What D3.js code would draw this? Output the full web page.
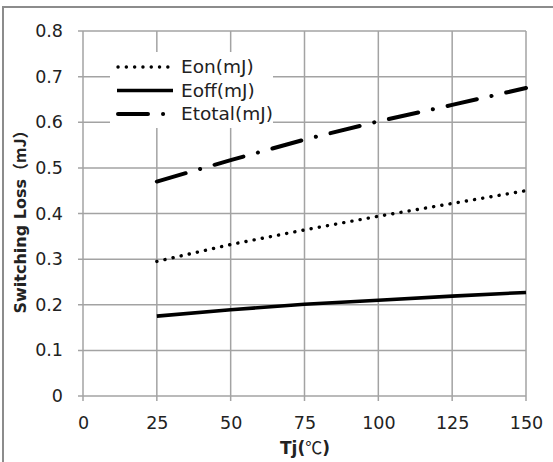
<!DOCTYPE html>
<html>
<head>
<meta charset="utf-8">
<script src="https://cdn.jsdelivr.net/npm/d3@7"></script>
<style>
  body { margin: 0; background: #fff; }
  text { font-family: "DejaVu Sans", "Noto Sans CJK SC", sans-serif; fill: #222; }
</style>
</head>
<body>
<svg id="chart" width="553" height="462"></svg>
<script>
// Tj in degrees C
var temps = [25, 50, 75, 100, 125, 150];
var eon = [0.295, 0.332, 0.364, 0.394, 0.422, 0.45];
var eoff = [0.175, 0.189, 0.201, 0.21, 0.219, 0.227];
var etotal = [0.47, 0.517, 0.562, 0.602, 0.638, 0.675];

var xTicks = [0, 25, 50, 75, 100, 125, 150];
var yTicks = [0, 0.1, 0.2, 0.3, 0.4, 0.5, 0.6, 0.7, 0.8];

var series = [
    {name: 'Eon(mJ)', values: eon, width: 3.4, dash: '0.1 8.2', cap: 'round'},
    {name: 'Eoff(mJ)', values: eoff, width: 3.6, dash: null, cap: 'butt'},
    {name: 'Etotal(mJ)', values: etotal, width: 4, dash: '30 15 0.1 15', cap: 'round'}
];

function drawChart() {
    var svg = d3.select('#chart');

    // outer frame, right and bottom edges fall off the picture
    svg.append('rect')
        .attr('x', 3)
        .attr('y', 7)
        .attr('width', 600)
        .attr('height', 500)
        .attr('fill', 'none')
        .attr('stroke', '#8c8c8c')
        .attr('stroke-width', 2);

    var pLeft = 83, pRight = 526, pTop = 31, pBottom = 396;

    var x = d3.scaleLinear().domain([0, 150]).range([pLeft, pRight]);
    var y = d3.scaleLinear().domain([0, 0.8]).range([pBottom, pTop]);

    // grid
    svg.append('g')
        .selectAll('line')
        .data(xTicks)
        .enter()
        .append('line')
        .attr('x1', function(d) { return x(d); })
        .attr('x2', function(d) { return x(d); })
        .attr('y1', pTop)
        .attr('y2', pBottom + 5)
        .attr('stroke', '#a3a3a3')
        .attr('stroke-width', 1.5);

    svg.append('g')
        .selectAll('line')
        .data(yTicks)
        .enter()
        .append('line')
        .attr('x1', pLeft - 5)
        .attr('x2', pRight)
        .attr('y1', function(d) { return y(d); })
        .attr('y2', function(d) { return y(d); })
        .attr('stroke', '#a3a3a3')
        .attr('stroke-width', 1.5);

    // axes (labels only, lines come from grid)
    var xAxis = svg.append('g')
        .attr('transform', 'translate(0,' + pBottom + ')')
        .call(d3.axisBottom(x).tickValues(xTicks).tickSize(0).tickPadding(21));
    xAxis.select('.domain').remove();
    xAxis.selectAll('text')
        .style('font-family', '"DejaVu Sans", sans-serif')
        .style('font-size', '17.5px')
        .attr('fill', '#222');

    var yAxis = svg.append('g')
        .attr('transform', 'translate(' + pLeft + ',0)')
        .call(d3.axisLeft(y).tickValues(yTicks).tickSize(0).tickPadding(20)
            .tickFormat(function(d) { return d === 0 ? '0' : d3.format('.1f')(d); }));
    yAxis.select('.domain').remove();
    yAxis.selectAll('text')
        .style('font-family', '"DejaVu Sans", sans-serif')
        .style('font-size', '17.5px')
        .attr('fill', '#222');

    // series
    var line = d3.line()
        .x(function(d, i) { return x(temps[i]); })
        .y(function(d) { return y(d); });

    series.forEach(function(s) {
        svg.append('path')
            .datum(s.values)
            .attr('d', line)
            .attr('fill', 'none')
            .attr('stroke', '#000')
            .attr('stroke-width', s.width)
            .attr('stroke-linecap', s.cap)
            .attr('stroke-dasharray', s.dash);
    });

    // legend, its white box hides the grid behind it
    var legend = svg.append('g');
    legend.append('rect')
        .attr('x', 110)
        .attr('y', 52)
        .attr('width', 163)
        .attr('height', 76)
        .attr('fill', '#fff');
    series.forEach(function(s, i) {
        var ly = 67 + i * 23.5;
        legend.append('line')
            .attr('x1', s.dash ? 118 : 117)
            .attr('x2', 173)
            .attr('y1', ly)
            .attr('y2', ly)
            .attr('stroke', '#000')
            .attr('stroke-width', s.width)
            .attr('stroke-linecap', s.cap)
            .attr('stroke-dasharray', s.dash);
        legend.append('text')
            .attr('x', 181)
            .attr('y', ly)
            .attr('dy', '0.35em')
            .style('font-size', '18.5px')
            .text(s.name);
    });

    // axis titles
    var ytitle = svg.append('text')
        .attr('transform', 'translate(20,218) rotate(-90)')
        .attr('text-anchor', 'middle')
        .attr('dy', '0.35em')
        .style('font-size', '16px')
        .style('font-weight', 'bold');
    ytitle.append('tspan').text('Switching Loss');
    ytitle.append('tspan')
        .style('font-family', '"Noto Sans CJK SC", sans-serif')
        .text('（mJ）');

    var tj = svg.append('text')
        .attr('x', 305)
        .attr('y', 448)
        .attr('text-anchor', 'middle')
        .attr('dy', '0.35em')
        .style('font-size', '17px')
        .style('font-weight', 'bold');
    tj.append('tspan').text('Tj(');
    tj.append('tspan')
        .style('font-family', '"Noto Sans CJK SC", sans-serif')
        .style('font-weight', 'normal')
        .text('℃');
    tj.append('tspan').text(')');
}

drawChart();
</script>
</body>
</html>
